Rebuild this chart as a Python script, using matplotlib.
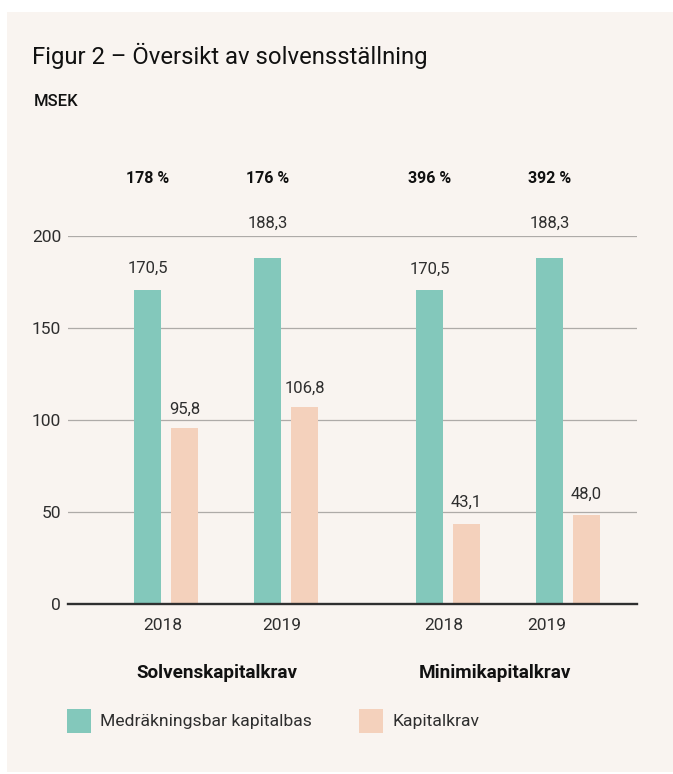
import matplotlib
matplotlib.use("Agg")
import matplotlib.pyplot as plt
from matplotlib.patches import Rectangle

# ---- data ----
groups = ["Solvenskapitalkrav", "Minimikapitalkrav"]
years = ["2018", "2019", "2018", "2019"]
kapitalbas = [170.5, 188.3, 170.5, 188.3]
kapitalkrav = [95.8, 106.8, 43.1, 48.0]
ratios = ["178 %", "176 %", "396 %", "392 %"]
series_names = ["Medräkningsbar kapitalbas", "Kapitalkrav"]
yticks = [0, 50, 100, 150, 200]

# ---- style ----
TEAL = "#83c8bb"
PEACH = "#f4d1bc"
BG = "#f9f4f0"
TXT = "#2e2e2e"
GRID = "#aeaba8"
FONT = ["Roboto", "DejaVu Sans"]
plt.rcParams["font.family"] = FONT

W, H = 673, 774
fig = plt.figure(figsize=(W / 100, H / 100), dpi=100)
fig.patch.set_facecolor("white")
fig.patches.append(Rectangle((7 / W, 1 - 772 / H), 666 / W, 760 / H,
                             transform=fig.transFigure, facecolor=BG,
                             edgecolor="none", zorder=-10))

ax = fig.add_axes([68 / W, 1 - 603.7 / H, (637 - 68) / W, (603.7 - 236) / H])
ax.set_facecolor("none")

# positions (units of 120 px)
pos = [0.0, 1.0, 2.35, 3.35]
off = 18.5 / 120
bw = 27 / 120
xt = [p - off for p in pos]
xp = [p + off for p in pos]

ax.bar(xt, kapitalbas, width=bw, color=TEAL, zorder=2)
ax.bar(xp, kapitalkrav, width=bw, color=PEACH, zorder=2)

ax.set_xlim((68 - 166) / 120, (637 - 166) / 120)
ax.set_ylim(0, 200)
ax.set_yticks(yticks)
ax.set_yticklabels([str(t) for t in yticks])
ax.yaxis.grid(True, color=GRID, linewidth=0.9)
ax.set_axisbelow(True)
ax.tick_params(axis="y", length=0, pad=5, labelsize=12.5, labelcolor=TXT)
ax.set_xticks([])
for s in ["top", "right", "left"]:
    ax.spines[s].set_visible(False)
ax.spines["bottom"].set_color("#2f2f2f")
ax.spines["bottom"].set_linewidth(1.7)
ax.spines["bottom"].set_zorder(3)

# value labels
teal_off = [17, 30, 16, 30]
peach_off = [14, 15, 18, 17]
fmt = lambda v: f"{v:.1f}".replace(".", ",")
for x, v, o in zip(xt, kapitalbas, teal_off):
    ax.annotate(fmt(v), (x, v), xytext=(0, o), textcoords="offset pixels",
                ha="center", va="baseline", fontsize=12, color=TXT,
                annotation_clip=False)
for x, v, o in zip(xp, kapitalkrav, peach_off):
    ax.annotate(fmt(v), (x, v), xytext=(0, o), textcoords="offset pixels",
                ha="center", va="baseline", fontsize=12, color=TXT,
                annotation_clip=False)

# ratio labels (bold, above teal bars)
for x, r in zip(xt, ratios):
    ax.annotate(r, (x, H - 182.7), xycoords=("data", "figure pixels"),
                ha="center", va="baseline", fontsize=11.5, fontweight="bold",
                color="#111111", annotation_clip=False)

# year labels
year_dx = [-3.3, -4.3, -4, -21]
for p, y, dx in zip(pos, years, year_dx):
    ax.annotate(y, (p, H - 630), xycoords=("data", "figure pixels"),
                xytext=(dx, 0), textcoords="offset pixels",
                ha="center", va="baseline", fontsize=12.5,
                color=TXT, annotation_clip=False)

# group labels
group_dx = [-9, -13]
for i, (g, dx) in enumerate(zip(groups, group_dx)):
    gx = (pos[2 * i] + pos[2 * i + 1]) / 2
    ax.annotate(g, (gx, H - 678.3), xycoords=("data", "figure pixels"),
                xytext=(dx, 0), textcoords="offset pixels",
                ha="center", va="baseline", fontsize=13.6, fontweight="bold",
                color="#111111", annotation_clip=False)

# title and unit
fig.text(32 / W, 1 - 64.3 / H, "Figur 2 – Översikt av solvensställning",
         fontsize=17.2, color="#111111", va="baseline", ha="left")
fig.text(34 / W, 1 - 106 / H, "MSEK", fontsize=12, fontweight="medium",
         color="#111111", va="baseline", ha="left")

# legend (manual)
leg = [(67, TEAL, series_names[0]), (359, PEACH, series_names[1])]
for lx, c, name in leg:
    fig.patches.append(Rectangle((lx / W, 1 - 733 / H), 24 / W, 24 / H,
                                 transform=fig.transFigure, facecolor=c,
                                 edgecolor="none"))
    fig.text((lx + 33) / W, 1 - 726 / H, name, fontsize=12.6,
             color=TXT, va="baseline", ha="left")

fig.savefig("out.png", dpi=100, facecolor=fig.get_facecolor())
